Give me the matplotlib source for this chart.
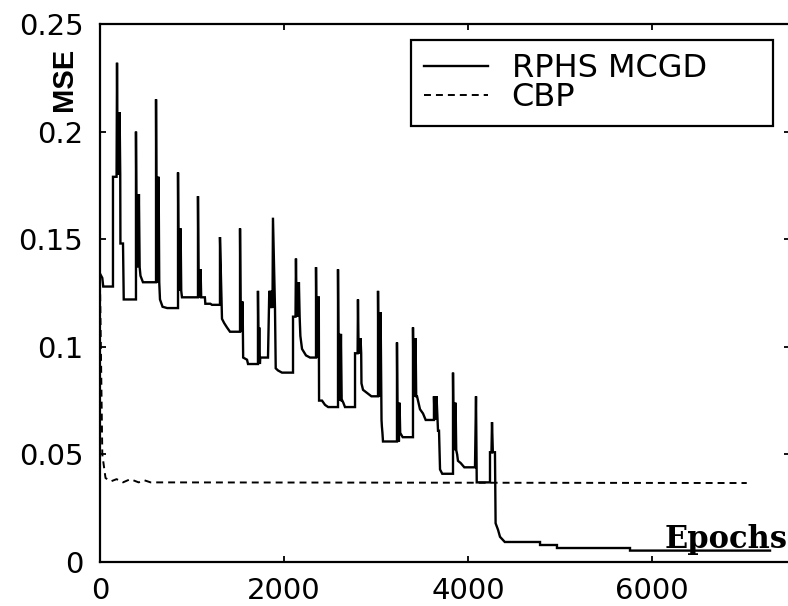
import matplotlib
matplotlib.use("Agg")
import matplotlib.pyplot as plt
from matplotlib.ticker import FuncFormatter

# ---------------- data ----------------
rphs_epochs = [
    0, 25, 35, 141, 141, 180, 185, 192, 199, 206, 213, 220, 222, 250, 258, 391,
    391, 399, 407, 415, 423, 431, 440, 467, 609,
    609, 616, 623, 630, 637, 644, 652, 680, 730, 848,
    848, 855, 862, 869, 876, 883, 891, 1065,
    1065, 1072, 1079, 1086, 1093, 1100, 1140, 1145, 1200, 1217, 1304,
    1304, 1326, 1350, 1380, 1413, 1522,
    1522, 1529, 1536, 1543, 1550, 1556, 1598, 1609, 1717,
    1717, 1724, 1731, 1738, 1742, 1826,
    1840, 1847, 1854, 1861, 1868, 1875, 1880, 1902, 1910, 1935, 1978, 2098,
    2098, 2125, 2130, 2138, 2146, 2154, 2162, 2170, 2178, 2196, 2239, 2283, 2348,
    2348, 2355, 2362, 2369, 2376, 2378, 2381, 2413, 2446, 2480, 2587,
    2587, 2595, 2603, 2611, 2619, 2627, 2634, 2645, 2663, 2772,
    2772, 2800, 2804, 2811, 2818, 2825, 2832, 2839, 2842, 2859, 2902, 2950, 3022,
    3022, 3029, 3036, 3043, 3050, 3057, 3060, 3064, 3070, 3076, 3228,
    3228, 3235, 3242, 3249, 3256, 3263, 3290, 3402,
    3402, 3409, 3416, 3423, 3430, 3437, 3446, 3478, 3511, 3540, 3630,
    3630, 3637, 3644, 3651, 3658, 3674, 3685, 3696, 3720, 3837,
    3837, 3844, 3851, 3858, 3865, 3872, 3882, 3891, 3920, 3960, 4076,
    4087, 4095, 4239,
    4239, 4255, 4261, 4270, 4293, 4300, 4326, 4348, 4400, 4783, 4783, 4967,
    4967, 5761, 5761, 7283,
]
rphs_mse = [
    0.134, 0.132, 0.128, 0.128, 0.179, 0.179, 0.232, 0.180, 0.209, 0.180, 0.209, 0.180, 0.148, 0.148, 0.122, 0.122,
    0.200, 0.137, 0.171, 0.137, 0.171, 0.137, 0.133, 0.130, 0.130,
    0.215, 0.130, 0.179, 0.130, 0.179, 0.130, 0.122, 0.1186, 0.118, 0.118,
    0.181, 0.126, 0.155, 0.126, 0.155, 0.126, 0.123, 0.123,
    0.170, 0.123, 0.136, 0.123, 0.136, 0.123, 0.123, 0.120, 0.120, 0.1195, 0.1195,
    0.151, 0.113, 0.111, 0.109, 0.107, 0.107,
    0.155, 0.107, 0.121, 0.107, 0.121, 0.095, 0.094, 0.092, 0.092,
    0.126, 0.092, 0.109, 0.092, 0.095, 0.095,
    0.126, 0.118, 0.126, 0.118, 0.126, 0.118, 0.160, 0.118, 0.090, 0.089, 0.088, 0.088,
    0.114, 0.114, 0.141, 0.114, 0.130, 0.114, 0.130, 0.114, 0.105, 0.099, 0.096, 0.095, 0.095,
    0.137, 0.095, 0.123, 0.095, 0.123, 0.123, 0.075, 0.075, 0.073, 0.072, 0.072,
    0.136, 0.075, 0.106, 0.075, 0.106, 0.075, 0.075, 0.074, 0.072, 0.072,
    0.097, 0.097, 0.122, 0.097, 0.104, 0.097, 0.104, 0.097, 0.083, 0.080, 0.0786, 0.077, 0.077,
    0.126, 0.077, 0.116, 0.077, 0.116, 0.077, 0.066, 0.063, 0.060, 0.056, 0.056,
    0.102, 0.056, 0.074, 0.056, 0.074, 0.060, 0.058, 0.058,
    0.109, 0.077, 0.104, 0.077, 0.104, 0.077, 0.077, 0.071, 0.069, 0.066, 0.066,
    0.077, 0.066, 0.077, 0.066, 0.077, 0.061, 0.061, 0.043, 0.041, 0.041,
    0.088, 0.052, 0.074, 0.052, 0.074, 0.052, 0.050, 0.047, 0.046, 0.044, 0.044,
    0.077, 0.037, 0.037,
    0.051, 0.051, 0.065, 0.051, 0.051, 0.018, 0.015, 0.0117, 0.0093, 0.0093, 0.0079, 0.0079,
    0.0065, 0.0065, 0.0053, 0.0053,
]

cbp_epochs = [0, 25, 60, 120, 180, 250, 330, 420, 480, 550, 7030]
cbp_mse = [0.130, 0.050, 0.039, 0.0375, 0.0385, 0.037, 0.0385, 0.037, 0.038, 0.037, 0.0367]

x_ticks = [0, 2000, 4000, 6000]
y_ticks = [0, 0.05, 0.1, 0.15, 0.2, 0.25]
series_labels = ["RPHS MCGD", "CBP"]

# ---------------- figure ----------------
W, H = 788, 606
fig = plt.figure(figsize=(W / 100, H / 100), dpi=100)
ax = fig.add_axes([100 / W, 44 / H, 690 / W, 538 / H])

plt.rcParams["lines.scale_dashes"] = False

ax.plot(rphs_epochs, rphs_mse, color="black", lw=1.7, solid_joinstyle="miter",
        label=series_labels[0])
ax.plot(cbp_epochs, cbp_mse, color="black", lw=1.4, dashes=(5, 3.6),
        label=series_labels[1])

ax.set_xlim(0, 7500)
ax.set_ylim(0, 0.25)
ax.set_xticks(x_ticks)
ax.set_yticks(y_ticks)
ax.yaxis.set_major_formatter(FuncFormatter(lambda v, p: "%g" % v))

for s in ax.spines.values():
    s.set_linewidth(1.6)
    s.set_color("black")

ax.tick_params(axis="both", direction="in", length=4, width=1.3,
               top=True, right=True, labelsize=21, colors="black")
ax.tick_params(axis="x", pad=11)
ax.tick_params(axis="y", pad=12)
for lab in ax.get_xticklabels() + ax.get_yticklabels():
    lab.set_fontfamily("DejaVu Sans")

ax.set_xlabel("Epochs", fontfamily="DejaVu Serif", fontweight="bold", fontsize=22,
              ha="left", va="baseline")
ax.xaxis.set_label_coords((665 - 100) / 690, (562 - 548) / 538)
ax.set_ylabel("MSE", fontfamily="Liberation Sans", fontweight="bold", fontsize=21,
              ha="center", va="center")
ax.yaxis.set_label_coords((64 - 100) / 690, (562 - 79) / 538)

leg = ax.legend(loc="upper left", bbox_to_anchor=(411 / W, 1 - 129 / H, 362 / W, 89 / H),
                bbox_transform=fig.transFigure, mode="expand", frameon=True,
                fancybox=False, edgecolor="black", framealpha=1,
                prop={"family": "DejaVu Sans", "size": 23},
                borderpad=0.4, handlelength=2.0, handletextpad=0.75,
                labelspacing=-0.05, borderaxespad=0)
leg.get_frame().set_linewidth(1.6)

fig.savefig("out.png", dpi=100)
